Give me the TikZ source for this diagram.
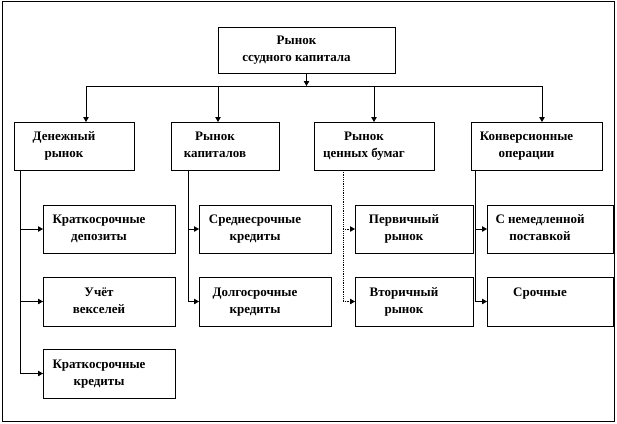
\documentclass[tikz,border=0pt]{standalone}
\usepackage{fontspec}
\setmainfont{Liberation Serif}
\usetikzlibrary{arrows.meta}
\newcommand\bxt[1]{\begin{tabular}{@{}c@{}}#1\end{tabular}\hbox to 20pt{}}
\begin{document}
\begin{tikzpicture}[x=1pt,y=-1pt,
  box/.style={draw=black, line width=0.8pt, rectangle, anchor=north west, inner sep=0pt, outer sep=0pt,
    font=\fontsize{13}{17}\selectfont\bfseries, minimum height=48pt},
  conn/.style={line width=0.8pt},
  arr/.style={conn, -{Triangle[length=5pt,width=5.5pt]}}]
\useasboundingbox (0,0) rectangle (617,423);
\draw[line width=0.9pt] (2,1) rectangle (614,421);
% top
\node[box, minimum width=177pt, minimum height=46pt] (top) at (218,27) {\bxt{Рынок\\ссудного капитала}};
% level 2
\node[box, minimum width=120pt] (m1) at (14,122) {\bxt{Денежный\\рынок}};
\node[box, minimum width=108pt] (m2) at (171,122) {\bxt{Рынок\\капиталов}};
\node[box, minimum width=120pt] (m3) at (314,122) {\bxt{Рынок\\ценных бумаг}};
\node[box, minimum width=131pt] (m4) at (471,122) {\bxt{Конверсионные\\операции}};
% level 3
\node[box, minimum width=132pt] (c11) at (43,205) {\bxt{Краткосрочные\\депозиты}};
\node[box, minimum width=132pt, minimum height=49pt] (c12) at (43,277) {\bxt{Учёт\\векселей}};
\node[box, minimum width=132pt, minimum height=49pt] (c13) at (43,349) {\bxt{Краткосрочные\\кредиты}};
\node[box, minimum width=132pt] (c21) at (199,205) {\bxt{Среднесрочные\\кредиты}};
\node[box, minimum width=132pt, minimum height=49pt] (c22) at (199,277) {\bxt{Долгосрочные\\кредиты}};
\node[box, minimum width=118pt] (c31) at (355,205) {\bxt{Первичный\\рынок}};
\node[box, minimum width=118pt, minimum height=49pt] (c32) at (355,277) {\bxt{Вторичный\\рынок}};
\node[box, minimum width=126pt] (c41) at (487,205) {\bxt{С немедленной\\поставкой}};
\node[box, minimum width=126pt, minimum height=49pt] (c42) at (487,277) {\bxt{Срочные\\\mbox{}}};
% bus
\coordinate (b1) at (86,86);
\coordinate (b2) at (218,86);
\coordinate (b3) at (374,86);
\coordinate (b4) at (542,86);
\draw[conn] (b1) -- (b4);
\draw[arr] (top.south) -- (top.south |- b1);
\draw[arr] (b1) -- (b1 |- m1.north);
\draw[arr] (b2) -- (b2 |- m2.north);
\draw[arr] (b3) -- (b3 |- m3.north);
\draw[arr] (b4) -- (b4 |- m4.north);
% branches
\coordinate (v1) at (20,170);
\coordinate (v2) at (188,170);
\coordinate (v3) at (343,170);
\coordinate (v4) at (475,170);
\draw[arr] (v1) |- (c13.west);
\draw[arr] (v1 |- c11.west) -- (c11.west);
\draw[arr] (v1 |- c12.west) -- (c12.west);
\draw[arr] (v2) |- (c22.west);
\draw[arr] (v2 |- c21.west) -- (c21.west);
\draw[arr, densely dotted] (v3) |- (c32.west);
\draw[arr, densely dotted] (v3 |- c31.west) -- (c31.west);
\draw[arr] (v4) |- (c42.west);
\draw[arr] (v4 |- c41.west) -- (c41.west);
\end{tikzpicture}
\end{document}
